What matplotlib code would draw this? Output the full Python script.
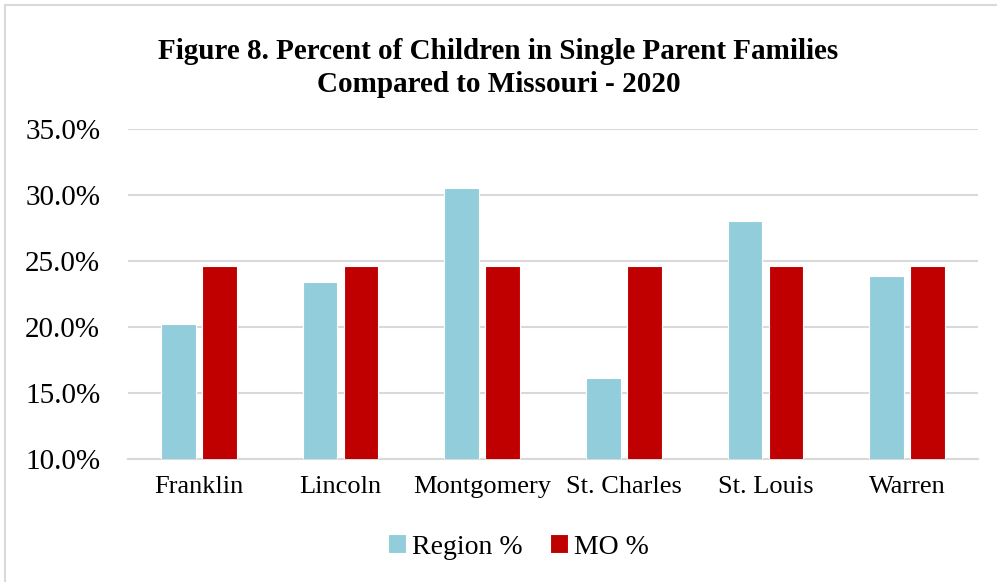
import numpy as np
import matplotlib
matplotlib.use('Agg')
import matplotlib.pyplot as plt
from matplotlib.patches import Rectangle
from matplotlib.ticker import FuncFormatter

plt.rcParams['font.family'] = ['Liberation Serif', 'DejaVu Serif']

counties = ['Franklin', 'Lincoln', 'Montgomery', 'St. Charles', 'St. Louis', 'Warren']
region_pct = [20.2, 23.4, 30.5, 16.1, 28.0, 23.9]
mo_pct = [24.6, 24.6, 24.6, 24.6, 24.6, 24.6]

blue = '#92CDDC'
red = '#C00000'

fig = plt.figure(figsize=(9.97, 5.82), dpi=100)
ax = fig.add_axes([128 / 997, 1 - 459 / 582, 850 / 997, 330 / 582])

# chart area border (left + top only visible)
fig.patches.append(Rectangle((5 / 997, -0.1), 1.2, (582 - 5) / 582 + 0.1,
                             transform=fig.transFigure, fill=False,
                             edgecolor='#D9D9D9', linewidth=1.5))

x = np.arange(len(counties))
w = 0.245
ax.bar(x - 0.145, region_pct, w, color=blue, edgecolor='white', linewidth=0.8,
       label='Region %', zorder=3)
ax.bar(x + 0.145, mo_pct, w, color=red, edgecolor='white', linewidth=0.8,
       label='MO %', zorder=3)

ax.set_ylim(10, 35)
ax.set_xlim(-0.5, len(counties) - 0.5)
ax.set_yticks(np.arange(10, 35.1, 5))
ax.yaxis.set_major_formatter(FuncFormatter(lambda v, p: f'{v:.1f}%'))
ax.set_xticks(x)
ax.set_xticklabels(counties)
ax.tick_params(axis='both', length=0)
ax.tick_params(axis='x', labelsize=19, pad=12)
ax.tick_params(axis='y', labelsize=21, pad=20)
ax.grid(axis='y', color='#D9D9D9', linewidth=1.5, zorder=0)
for s in ['top', 'right', 'left']:
    ax.spines[s].set_visible(False)
ax.spines['bottom'].set_color('#D9D9D9')
ax.spines['bottom'].set_linewidth(1.5)

fig.text(0.5, 1 - 68 / 582, 'Figure 8. Percent of Children in Single Parent Families\nCompared to Missouri - 2020',
         ha='center', va='center', fontsize=21, fontweight='bold', linespacing=1.3)

fig.legend(loc='center', bbox_to_anchor=(0.52, 1 - 547 / 582), ncol=2, frameon=False,
           fontsize=20, handlelength=0.65, handleheight=0.65, handletextpad=0.2,
           columnspacing=1.0)

fig.savefig('out.png', dpi=100)
